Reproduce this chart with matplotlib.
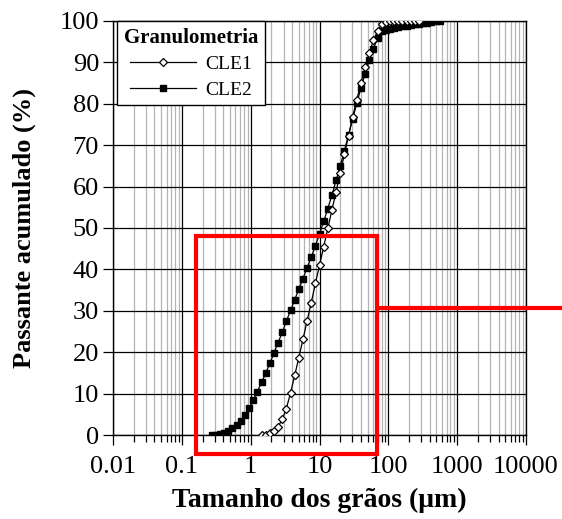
import matplotlib
matplotlib.use('Agg')
import matplotlib.pyplot as plt
from matplotlib.ticker import FixedLocator, NullFormatter
from matplotlib.patches import Rectangle
import numpy as np

plt.rcParams['font.family'] = ['Liberation Serif', 'DejaVu Serif']

# particle size classes (um)
size_cle2 = [0.272, 0.313, 0.359, 0.412, 0.474, 0.544, 0.625, 0.718, 0.825, 0.948,
             1.09, 1.25, 1.44, 1.65, 1.90, 2.18, 2.50, 2.88, 3.30, 3.80,
             4.36, 5.01, 5.75, 6.61, 7.59, 8.72, 10.0, 11.5, 13.2, 15.2,
             17.4, 20.0, 23.0, 26.4, 30.3, 34.8, 40.0, 46.0, 52.8, 60.7,
             69.7, 80.1, 92.0, 105.7, 121.4, 139.5, 160.3, 184.2, 211.6, 243.1,
             279.3, 320.9, 368.7, 423.6, 486.7, 559.2]
pass_cle2 = [0.0, 0.1, 0.3, 0.55, 0.95, 1.6, 2.4, 3.4, 4.8, 6.5,
             8.4, 10.5, 12.7, 14.9, 17.3, 19.8, 22.3, 24.8, 27.5, 30.1,
             32.7, 35.2, 37.8, 40.4, 43.0, 45.7, 48.6, 51.6, 54.7, 58.0,
             61.5, 65.0, 68.7, 72.5, 76.3, 80.1, 83.8, 87.3, 90.5, 93.3,
             95.8, 97.7, 97.9, 98.1, 98.3, 98.5, 98.7, 98.8, 99.0, 99.2,
             99.3, 99.5, 99.6, 99.8, 99.9, 100.0]

size_cle1 = [1.44, 1.65, 1.90, 2.18, 2.50, 2.88, 3.30, 3.80, 4.36, 5.01,
             5.75, 6.61, 7.59, 8.72, 10.0, 11.5, 13.2, 15.2, 17.4, 20.0,
             23.0, 26.4, 30.3, 34.8, 40.0, 46.0, 52.8, 60.7, 69.7, 80.1,
             92.0, 105.7, 121.4, 139.5, 160.3, 184.2, 211.6, 243.1, 279.3]
pass_cle1 = [0.0, 0.1, 0.4, 1.0, 2.0, 3.8, 6.4, 10.2, 14.4, 18.7,
             23.1, 27.6, 32.0, 36.6, 41.0, 45.5, 49.9, 54.4, 58.8, 63.3,
             67.8, 72.3, 76.8, 81.0, 85.0, 88.8, 92.3, 95.3, 97.6, 99.2,
             99.8, 100.0, 100.0, 100.0, 100.0, 100.0, 100.0, 100.0, 100.0]

xticks = [0.01, 0.1, 1, 10, 100, 1000, 10000]
xticklabels = ['0.01', '0.1', '1', '10', '100', '1000', '10000']
yticks = [0, 10, 20, 30, 40, 50, 60, 70, 80, 90, 100]

fig = plt.figure(figsize=(5.62, 5.19), dpi=100)
ax = fig.add_axes([113 / 562, 84 / 519, 413 / 562, 414 / 519])

ax.set_xscale('log')
ax.set_xlim(0.01, 10000)
ax.set_ylim(0, 100)

ax.set_xticks(xticks)
ax.set_xticklabels(xticklabels)
minors = [m * 10.0 ** e for e in range(-2, 4) for m in range(2, 10)]
ax.xaxis.set_minor_locator(FixedLocator(minors))
ax.xaxis.set_minor_formatter(NullFormatter())
ax.set_yticks(yticks)

ax.grid(which='minor', axis='x', color='#b4b4b4', linewidth=0.9, zorder=0)
ax.grid(which='major', axis='both', color='black', linewidth=0.9, zorder=0)
ax.set_axisbelow(True)

for s in ax.spines.values():
    s.set_linewidth(1.0)

ax.tick_params(axis='x', which='major', direction='out', length=7, width=0.9,
               labelsize=19, pad=8)
ax.tick_params(axis='x', which='minor', direction='out', length=5, width=0.9)
ax.tick_params(axis='y', which='major', direction='out', length=7, width=0.9,
               labelsize=19, pad=3)

l2, = ax.plot(size_cle2, pass_cle2, color='black', linewidth=0.9, marker='s',
              markersize=4.5, markerfacecolor='black', markeredgecolor='black',
              label='CLE2', zorder=3)
l1, = ax.plot(size_cle1, pass_cle1, color='black', linewidth=0.9, marker='D',
              markersize=4.4, markerfacecolor='white', markeredgecolor='black',
              markeredgewidth=0.9, label='CLE1', zorder=4)

ax.set_xlabel('Tamanho dos grãos (μm)', fontsize=20, fontweight='bold', labelpad=7)
ax.set_ylabel('Passante acumulado (%)', fontsize=19, fontweight='bold', labelpad=17)

leg = ax.legend(handles=[l1, l2], loc='upper left', bbox_to_anchor=(0.01, 1.0),
                borderaxespad=0, fancybox=False, framealpha=1, edgecolor='black',
                fontsize=14, handlelength=3.4, handletextpad=0.5,
                labelspacing=0.4, borderpad=0.35, title='Granulometria',
                title_fontproperties={'weight': 'bold', 'size': 15})
leg.get_frame().set_linewidth(1.0)
leg.set_zorder(5)

# highlighted region and pointer line
box = Rectangle((0.158, -4.6), 68.6 - 0.158, 48.1 + 4.6, fill=False,
                edgecolor='#ff0000', linewidth=3, clip_on=False, zorder=6)
ax.add_patch(box)
ax.plot([68.6, 40000], [30.7, 30.7], color='#ff0000', linewidth=3,
        clip_on=False, zorder=6, solid_capstyle='butt')

fig.savefig('out.png', dpi=100)
